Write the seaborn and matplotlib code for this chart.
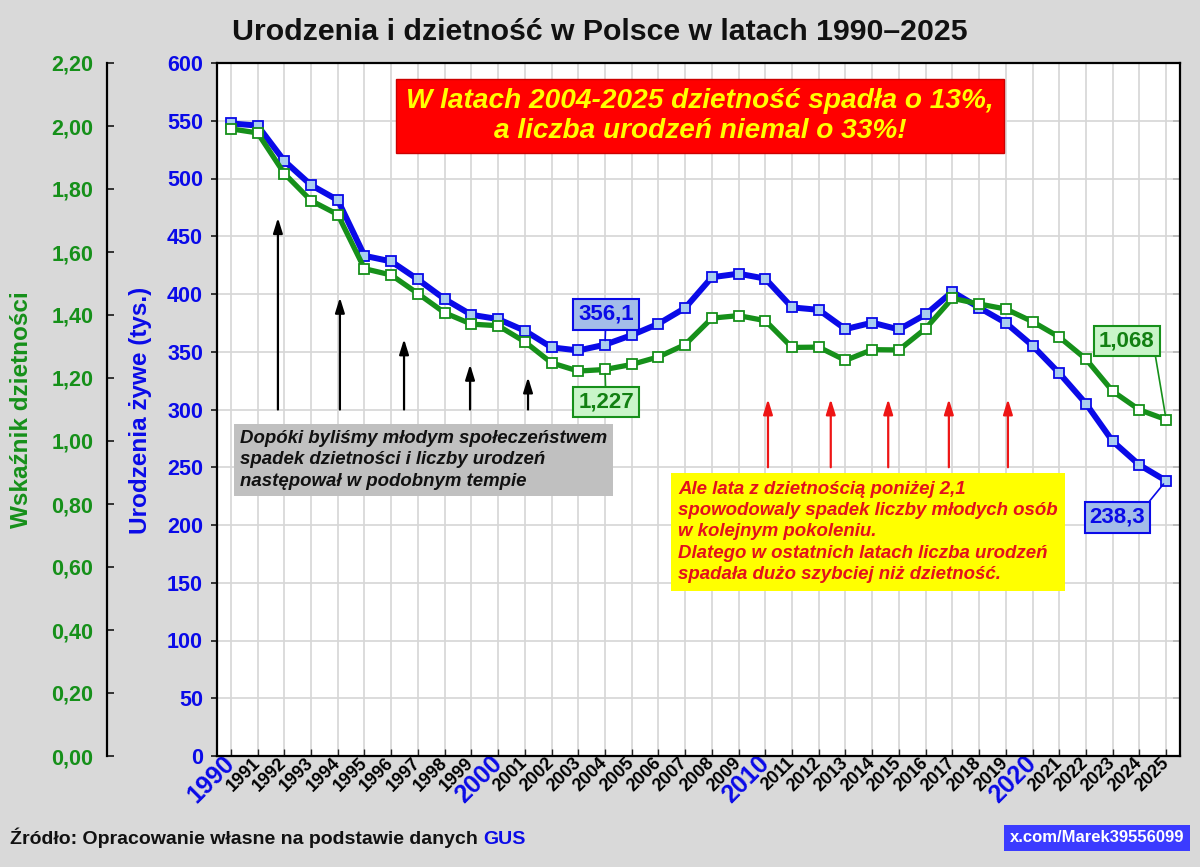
import matplotlib
matplotlib.use('Agg')
import matplotlib.pyplot as plt
import seaborn as sns
import pandas as pd
from matplotlib import font_manager
from matplotlib.ticker import FuncFormatter, MultipleLocator

# dane
years = list(range(1990, 2026))
births = [547.7, 545.8, 515.2, 494.3, 481.3, 433.1, 428.2, 412.6, 395.6, 382.0,
          378.3, 368.2, 353.8, 351.1, 356.1, 364.4, 374.2, 387.9, 414.5, 417.6,
          413.3, 388.4, 386.3, 369.6, 375.2, 369.3, 382.3, 402.0, 388.2, 375.0,
          355.3, 331.5, 305.1, 272.5, 252.0, 238.3]
fertility = [1.991, 1.978, 1.849, 1.763, 1.719, 1.547, 1.527, 1.468, 1.407, 1.371,
             1.366, 1.315, 1.248, 1.222, 1.227, 1.243, 1.267, 1.306, 1.390, 1.398,
             1.382, 1.297, 1.298, 1.256, 1.290, 1.289, 1.357, 1.453, 1.435, 1.419,
             1.379, 1.330, 1.260, 1.158, 1.099, 1.068]
decades = [1990, 2000, 2010, 2020]

black_arrow_years = [1991.76, 1994.08, 1996.48, 1998.95, 2001.12]
black_arrow_tops = [466, 397, 361, 339, 328]
red_arrow_years = [2010.1, 2012.45, 2014.6, 2016.87, 2019.08]

BLUE = '#0a0ae8'
GREEN = '#16901a'

installed = {f.name for f in font_manager.fontManager.ttflist}
MAIN = [c for c in ['Liberation Sans', 'Arimo', 'Roboto'] if c in installed] + ['DejaVu Sans']

sns.set_style('white')
plt.rcParams['font.family'] = MAIN
plt.rcParams['font.weight'] = 'bold'

df = pd.DataFrame({'rok': years, 'urodzenia': births, 'dzietnosc': fertility})

fig = plt.figure(figsize=(12, 8.67), dpi=100, facecolor='#d9d9d9')
ax = fig.add_axes([217 / 1200, 111 / 867, 963 / 1200, 693 / 867])
ax.set_facecolor('white')
ax2 = ax.twinx()

sns.lineplot(data=df, x='rok', y='urodzenia', ax=ax, color=BLUE, lw=4.3,
             marker='s', markersize=7, markerfacecolor='#a9cdf0',
             markeredgecolor=BLUE, markeredgewidth=1.3, zorder=5)
sns.lineplot(data=df, x='rok', y='dzietnosc', ax=ax2, color=GREEN, lw=3.8,
             marker='s', markersize=7, markerfacecolor='white',
             markeredgecolor=GREEN, markeredgewidth=1.3, zorder=5)

ax.set_xlim(1989.48, 2025.52)
ax.set_ylim(0, 600)
ax2.set_ylim(0, 2.2)
ax.set_xlabel('')
ax.set_ylabel('')
ax2.set_ylabel('')

# siatka i osie
ax.yaxis.set_major_locator(MultipleLocator(50))
ax.set_xticks(years)
ax.grid(True, color='#d6d6d6', lw=1.2)
ax.set_axisbelow(True)
for s in ax.spines.values():
    s.set_color('black')
    s.set_linewidth(1.6)
ax.tick_params(axis='y', direction='out', length=4, width=1.3, pad=6,
               labelsize=15.5, labelcolor=BLUE, left=True)
ax.tick_params(axis='x', direction='in', length=5, width=1.0, pad=3, bottom=True)
labels = ax.set_xticklabels([str(y) for y in years])
for yr, lab in zip(years, labels):
    lab.set_rotation(45)
    lab.set_ha('right')
    lab.set_va('center')
    lab.set_rotation_mode('anchor')
    if yr in decades:
        lab.set_fontsize(18)
        lab.set_color(BLUE)
    else:
        lab.set_fontsize(13)
        lab.set_color('black')

sec = ax.secondary_yaxis('right')
sec.yaxis.set_major_locator(MultipleLocator(50))
sec.tick_params(direction='in', length=5, width=1.3, labelright=False)
sec.spines['right'].set_visible(False)

for side in ['top', 'right', 'bottom']:
    ax2.spines[side].set_visible(False)
ax2.spines['left'].set_visible(True)
ax2.spines['left'].set_position(('axes', -0.1142))
ax2.spines['left'].set_color('black')
ax2.spines['left'].set_linewidth(1.6)
ax2.yaxis.set_ticks_position('left')
ax2.yaxis.set_major_locator(MultipleLocator(0.2))
ax2.yaxis.set_major_formatter(FuncFormatter(lambda v, p: f'{v:.2f}'.replace('.', ',')))
ax2.tick_params(axis='y', direction='in', length=5, width=1.3, pad=10,
                labelsize=15.5, labelcolor=GREEN)

# strzałki
for yr, top in zip(black_arrow_years, black_arrow_tops):
    ax.annotate('', xy=(yr, top), xytext=(yr, 300),
                arrowprops=dict(arrowstyle='-|>,head_length=0.9,head_width=0.28',
                                color='black', lw=1.6, shrinkA=0, shrinkB=0))
for yr in red_arrow_years:
    ax.annotate('', xy=(yr, 309), xytext=(yr, 250),
                arrowprops=dict(arrowstyle='-|>,head_length=0.9,head_width=0.28',
                                color='#ee1515', lw=1.6, shrinkA=0, shrinkB=0))

# etykiety wartości
lab_font = dict(fontsize=16, fontweight='bold', ha='center', va='center')
blue_box = dict(boxstyle='square,pad=0.22', fc='#a3bde9', ec=BLUE, lw=1.5)
green_box = dict(boxstyle='square,pad=0.22', fc='#c9f5c9', ec=GREEN, lw=1.5)
ax.annotate(f'{births[14]:.1f}'.replace('.', ','), xy=(years[14], births[14]),
            xytext=(2004.04, 382.4), color=BLUE, bbox=blue_box,
            arrowprops=dict(arrowstyle='-', color=BLUE, lw=1.2, shrinkA=0, shrinkB=3),
            zorder=10, **lab_font)
ax.annotate(f'{births[-1]:.1f}'.replace('.', ','), xy=(years[-1], births[-1]),
            xytext=(2023.17, 206.8), color=BLUE, bbox=blue_box,
            arrowprops=dict(arrowstyle='-', color=BLUE, lw=1.2, shrinkA=0, shrinkB=3,
                            relpos=(1, 1)),
            zorder=10, **lab_font)
ax2.annotate(f'{fertility[14]:.3f}'.replace('.', ','), xy=(years[14], fertility[14]),
             xytext=(2004.04, 306.5), textcoords=ax.transData, color='#128012',
             bbox=green_box,
             arrowprops=dict(arrowstyle='-', color=GREEN, lw=1.2, shrinkA=0, shrinkB=3),
             zorder=10, **lab_font)
ax2.annotate(f'{fertility[-1]:.3f}'.replace('.', ','), xy=(years[-1], fertility[-1]),
             xytext=(2023.53, 359.4), textcoords=ax.transData, color='#128012',
             bbox=green_box,
             arrowprops=dict(arrowstyle='-', color=GREEN, lw=1.2, shrinkA=0, shrinkB=3,
                             relpos=(1, 0)),
             zorder=10, **lab_font)

# teksty
fig.text(0.5, 1 - 32 / 867, 'Urodzenia i dzietność w Polsce w latach 1990–2025',
         ha='center', va='center', fontsize=21.8, color='#111111')
fig.text(700 / 1200, 1 - 116 / 867,
         'W latach 2004-2025 dzietność spadła o 13%,\na liczba urodzeń niemal o 33%!',
         ha='center', va='center', fontsize=20.2, style='italic', color='#ffff00',
         linespacing=1.15,
         bbox=dict(boxstyle='square,pad=0.35', fc='#ff0000', ec='#cc0000', lw=1))
fig.text(240 / 1200, 1 - 460 / 867,
         'Dopóki byliśmy młodym społeczeństwem\nspadek dzietności i liczby urodzeń\nnastępował w podobnym tempie',
         ha='left', va='center', fontsize=13.4, style='italic', color='#111111',
         linespacing=1.38,
         bbox=dict(boxstyle='square,pad=0.3', fc='#c0c0c0', ec='none'))
fig.text(678 / 1200, 1 - 532 / 867,
         'Ale lata z dzietnością poniżej 2,1\nspowodowaly spadek liczby młodych osób\n'
         'w kolejnym pokoleniu.\nDlatego w ostatnich latach liczba urodzeń\n'
         'spadała dużo szybciej niż dzietność.',
         ha='left', va='center', fontsize=13.4, style='italic', color='#e3101c',
         linespacing=1.34,
         bbox=dict(boxstyle='square,pad=0.4', fc='#ffff00', ec='none'))

fig.text(22 / 1200, 1 - 410 / 867, 'Wskaźnik dzietności', rotation=90,
         ha='center', va='center', fontsize=17.5, color=GREEN)
fig.text(141 / 1200, 1 - 410 / 867, 'Urodzenia żywe (tys.)', rotation=90,
         ha='center', va='center', fontsize=17.5, color=BLUE)

src = fig.text(10 / 1200, 1 - 844 / 867, 'Źródło: Opracowanie własne na podstawie danych',
               ha='left', va='baseline', fontsize=14, color='#111111')
fig.canvas.draw()
src_end = fig.transFigure.inverted().transform(
    src.get_window_extent(fig.canvas.get_renderer()).p1)[0]
fig.text(src_end + 5 / 1200, 1 - 844 / 867, 'GUS', ha='left', va='baseline',
         fontsize=14, color=BLUE)
fig.text(1184 / 1200, 1 - 838 / 867, 'x.com/Marek39556099', ha='right', va='center',
         fontsize=12, color='white',
         bbox=dict(boxstyle='square,pad=0.35', fc='#3b3bff', ec='none'))

fig.savefig('out.png', dpi=100, facecolor=fig.get_facecolor())
